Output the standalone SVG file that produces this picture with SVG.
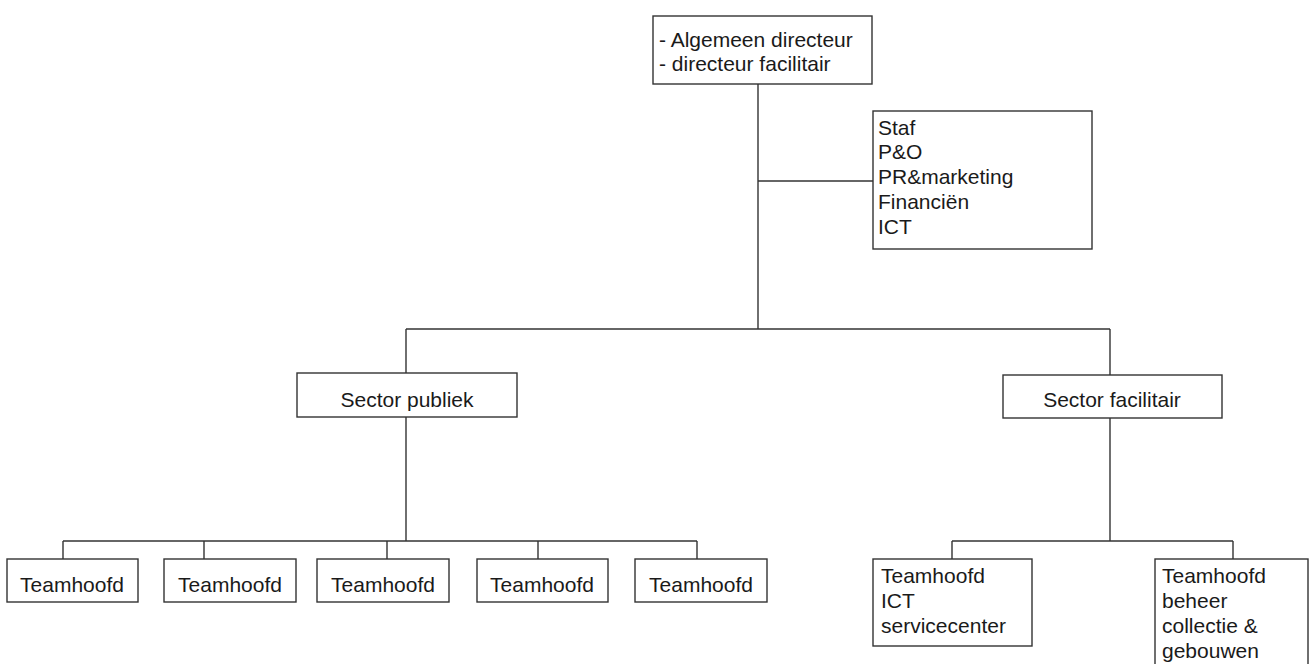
<svg xmlns="http://www.w3.org/2000/svg" width="1312" height="664" viewBox="0 0 1312 664">
<style>
rect{fill:#fff;stroke:#333;stroke-width:1.4}
.c line{stroke:#333;stroke-width:1.4}
text{font-family:"Liberation Sans",Arial,sans-serif;font-size:21px;fill:#1a1a1a}
.m{text-anchor:middle}
</style>
<rect x="0" y="0" width="1312" height="664" style="fill:#fff;stroke:none"/>
<g class="c" id="connectors">
<line x1="758" y1="84" x2="758" y2="329"/>
<line x1="758" y1="181" x2="873" y2="181"/>
<line x1="406" y1="329" x2="1110" y2="329"/>
<line x1="406" y1="329" x2="406" y2="373"/>
<line x1="1110" y1="329" x2="1110" y2="375"/>
<line x1="406" y1="417" x2="406" y2="541"/>
<line x1="63" y1="541" x2="697" y2="541"/>
<line x1="63" y1="541" x2="63" y2="559"/>
<line x1="204" y1="541" x2="204" y2="559"/>
<line x1="387" y1="541" x2="387" y2="559"/>
<line x1="538" y1="541" x2="538" y2="559"/>
<line x1="697" y1="541" x2="697" y2="559"/>
<line x1="1110" y1="418" x2="1110" y2="541"/>
<line x1="952" y1="541" x2="1233" y2="541"/>
<line x1="952" y1="541" x2="952" y2="559"/>
<line x1="1233" y1="541" x2="1233" y2="559"/>
</g>
<g id="directie">
<rect x="653" y="16" width="219" height="68"/>
<text x="659" y="47">- Algemeen directeur</text>
<text x="659" y="71">- directeur facilitair</text>
</g>
<g id="staf">
<rect x="873" y="111" width="219" height="138"/>
<text x="878" y="135">Staf</text>
<text x="878" y="159">P&amp;O</text>
<text x="878" y="184">PR&amp;marketing</text>
<text x="878" y="209">Financiën</text>
<text x="878" y="234">ICT</text>
</g>
<g id="sector-publiek">
<rect x="297" y="373" width="220" height="44"/>
<text class="m" x="407" y="407">Sector publiek</text>
</g>
<g id="sector-facilitair">
<rect x="1003" y="375" width="219" height="43"/>
<text class="m" x="1112" y="407">Sector facilitair</text>
</g>
<g id="team1">
<rect x="7" y="559" width="131" height="43"/>
<text class="m" x="72" y="592">Teamhoofd</text>
</g>
<g id="team2">
<rect x="164" y="559" width="132" height="43"/>
<text class="m" x="230" y="592">Teamhoofd</text>
</g>
<g id="team3">
<rect x="317" y="559" width="132" height="43"/>
<text class="m" x="383" y="592">Teamhoofd</text>
</g>
<g id="team4">
<rect x="477" y="559" width="131" height="43"/>
<text class="m" x="542" y="592">Teamhoofd</text>
</g>
<g id="team5">
<rect x="635" y="559" width="132" height="43"/>
<text class="m" x="701" y="592">Teamhoofd</text>
</g>
<g id="team-ict">
<rect x="873" y="559" width="159" height="87"/>
<text x="881" y="583">Teamhoofd</text>
<text x="881" y="608">ICT</text>
<text x="881" y="633">servicecenter</text>
</g>
<g id="team-beheer">
<rect x="1155" y="559" width="153" height="112"/>
<text x="1162" y="583">Teamhoofd</text>
<text x="1162" y="608">beheer</text>
<text x="1162" y="633">collectie &amp;</text>
<text x="1162" y="658">gebouwen</text>
</g>
</svg>
